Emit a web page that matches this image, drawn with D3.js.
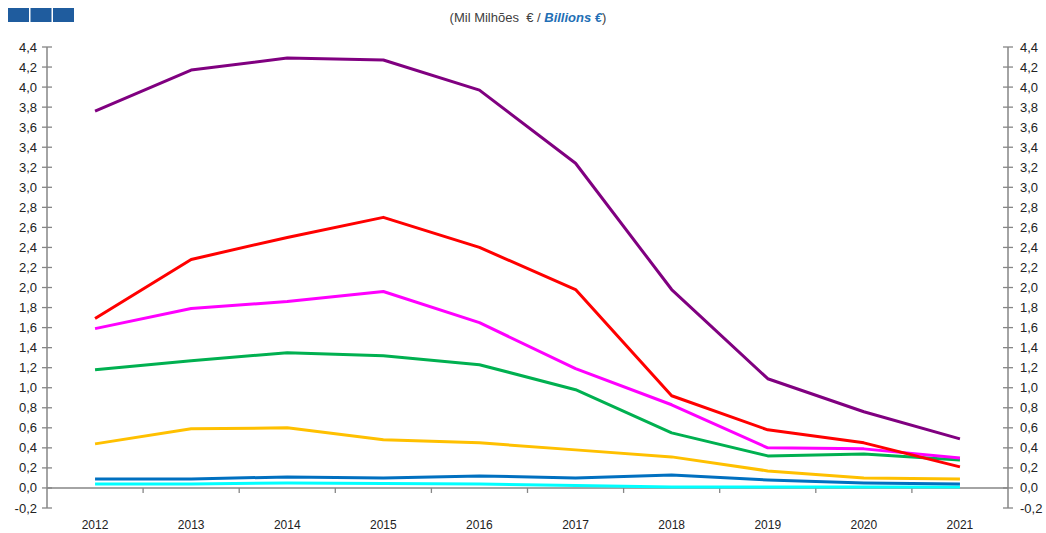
<!DOCTYPE html>
<html>
<head>
<meta charset="utf-8">
<script src="https://cdn.jsdelivr.net/npm/d3@7"></script>
<style>
  body { margin: 0; background: #fff; }
  text { font-family: "Liberation Sans", Arial, sans-serif; }
</style>
</head>
<body>
<div id="chart"></div>
<script>
// chart data
const years = ['2012', '2013', '2014', '2015', '2016', '2017', '2018', '2019', '2020', '2021'];
const purpleSeries = [3.76, 4.17, 4.29, 4.27, 3.97, 3.24, 1.98, 1.09, 0.76, 0.49];
const redSeries = [1.69, 2.28, 2.50, 2.70, 2.40, 1.98, 0.92, 0.58, 0.45, 0.21];
const magentaSeries = [1.59, 1.79, 1.86, 1.96, 1.65, 1.19, 0.83, 0.40, 0.39, 0.30];
const greenSeries = [1.18, 1.27, 1.35, 1.32, 1.23, 0.98, 0.55, 0.32, 0.34, 0.28];
const orangeSeries = [0.44, 0.59, 0.60, 0.48, 0.45, 0.38, 0.31, 0.17, 0.10, 0.09];
const blueSeries = [0.09, 0.09, 0.11, 0.10, 0.12, 0.10, 0.13, 0.08, 0.05, 0.04];
const cyanSeries = [0.04, 0.04, 0.05, 0.045, 0.04, 0.025, 0.01, 0.01, 0.01, 0.01];
const yTicks = [-0.2, 0, 0.2, 0.4, 0.6, 0.8, 1.0, 1.2, 1.4, 1.6, 1.8, 2.0, 2.2, 2.4, 2.6, 2.8, 3.0, 3.2, 3.4, 3.6, 3.8, 4.0, 4.2, 4.4];

const series = [
    {name: 'purple', values: purpleSeries, color: '#800080'},
    {name: 'red', values: redSeries, color: '#ff0000'},
    {name: 'magenta', values: magentaSeries, color: '#ff00ff'},
    {name: 'green', values: greenSeries, color: '#00b050'},
    {name: 'orange', values: orangeSeries, color: '#ffc000'},
    {name: 'blue', values: blueSeries, color: '#0070c0'},
    {name: 'cyan', values: cyanSeries, color: '#00ffff'}
];

const width = 1046, height = 533;
const margin = {top: 47, right: 38, bottom: 25, left: 47};
const axisColor = '#868686';

const svg = d3.select('#chart').append('svg')
    .attr('width', width)
    .attr('height', height);

// header squares
svg.selectAll('.logo')
    .data([0, 1, 2])
    .enter().append('rect')
    .attr('class', 'logo')
    .attr('x', d => 8 + d * 22.5)
    .attr('y', 8)
    .attr('width', 21)
    .attr('height', 14)
    .attr('fill', '#1f5c9e');

// subtitle
const title = svg.append('text')
    .attr('x', 528)
    .attr('y', 22)
    .attr('text-anchor', 'middle')
    .attr('font-size', 13)
    .attr('fill', '#404040')
    .style('white-space', 'pre');
title.append('tspan').text('(Mil Milhões \u00a0€ / ');
title.append('tspan').text('Billions €')
    .attr('font-weight', 'bold')
    .attr('font-style', 'italic')
    .attr('fill', '#1f6fb5');
title.append('tspan').text(')');

const x = d3.scaleBand()
    .domain(years)
    .range([margin.left, width - margin.right]);

const y = d3.scaleLinear()
    .domain([-0.2, 4.4])
    .range([508, margin.top]);

const fmt = d => d3.format('.1f')(d).replace('.', ',').replace('−', '-');

// y axes
function yAxis(g, right) {
    const xPos = right ? x.range()[1] : x.range()[0];
    g.append('line')
        .attr('x1', xPos).attr('x2', xPos)
        .attr('y1', y(4.4)).attr('y2', y(-0.2))
        .attr('stroke', axisColor).attr('stroke-width', 1.5);
    g.selectAll('.tick')
        .data(yTicks)
        .enter().append('line')
        .attr('x1', xPos - 5).attr('x2', xPos + 5)
        .attr('y1', d => y(d)).attr('y2', d => y(d))
        .attr('stroke', axisColor).attr('stroke-width', 1.3);
    g.selectAll('.lbl')
        .data(yTicks)
        .enter().append('text')
        .attr('x', right ? xPos + 12 : xPos - 10)
        .attr('y', d => y(d) + 4.5)
        .attr('text-anchor', right ? 'start' : 'end')
        .attr('font-size', 13)
        .attr('fill', '#222')
        .text(fmt);
}
yAxis(svg.append('g'), false);
yAxis(svg.append('g'), true);

// x axis at zero
const xg = svg.append('g');
xg.append('line')
    .attr('x1', x.range()[0]).attr('x2', x.range()[1])
    .attr('y1', y(0)).attr('y2', y(0))
    .attr('stroke', axisColor).attr('stroke-width', 1.5);
xg.selectAll('.xtick')
    .data(years.slice(1))
    .enter().append('line')
    .attr('x1', d => x(d)).attr('x2', d => x(d))
    .attr('y1', y(0)).attr('y2', y(0) + 5)
    .attr('stroke', axisColor).attr('stroke-width', 1.3);
xg.selectAll('.xlbl')
    .data(years)
    .enter().append('text')
    .attr('x', d => x(d) + x.bandwidth() / 2)
    .attr('y', 529)
    .attr('text-anchor', 'middle')
    .attr('font-size', 12)
    .attr('fill', '#222')
    .text(d => d);

// lines
const line = d3.line()
    .x((d, i) => x(years[i]) + x.bandwidth() / 2)
    .y(d => y(d));

svg.selectAll('.series')
    .data(series.slice().reverse())
    .enter().append('path')
    .attr('class', 'series')
    .attr('d', d => line(d.values))
    .attr('fill', 'none')
    .attr('stroke', d => d.color)
    .attr('stroke-width', 3)
    .attr('stroke-linejoin', 'round');
</script>
</body>
</html>
